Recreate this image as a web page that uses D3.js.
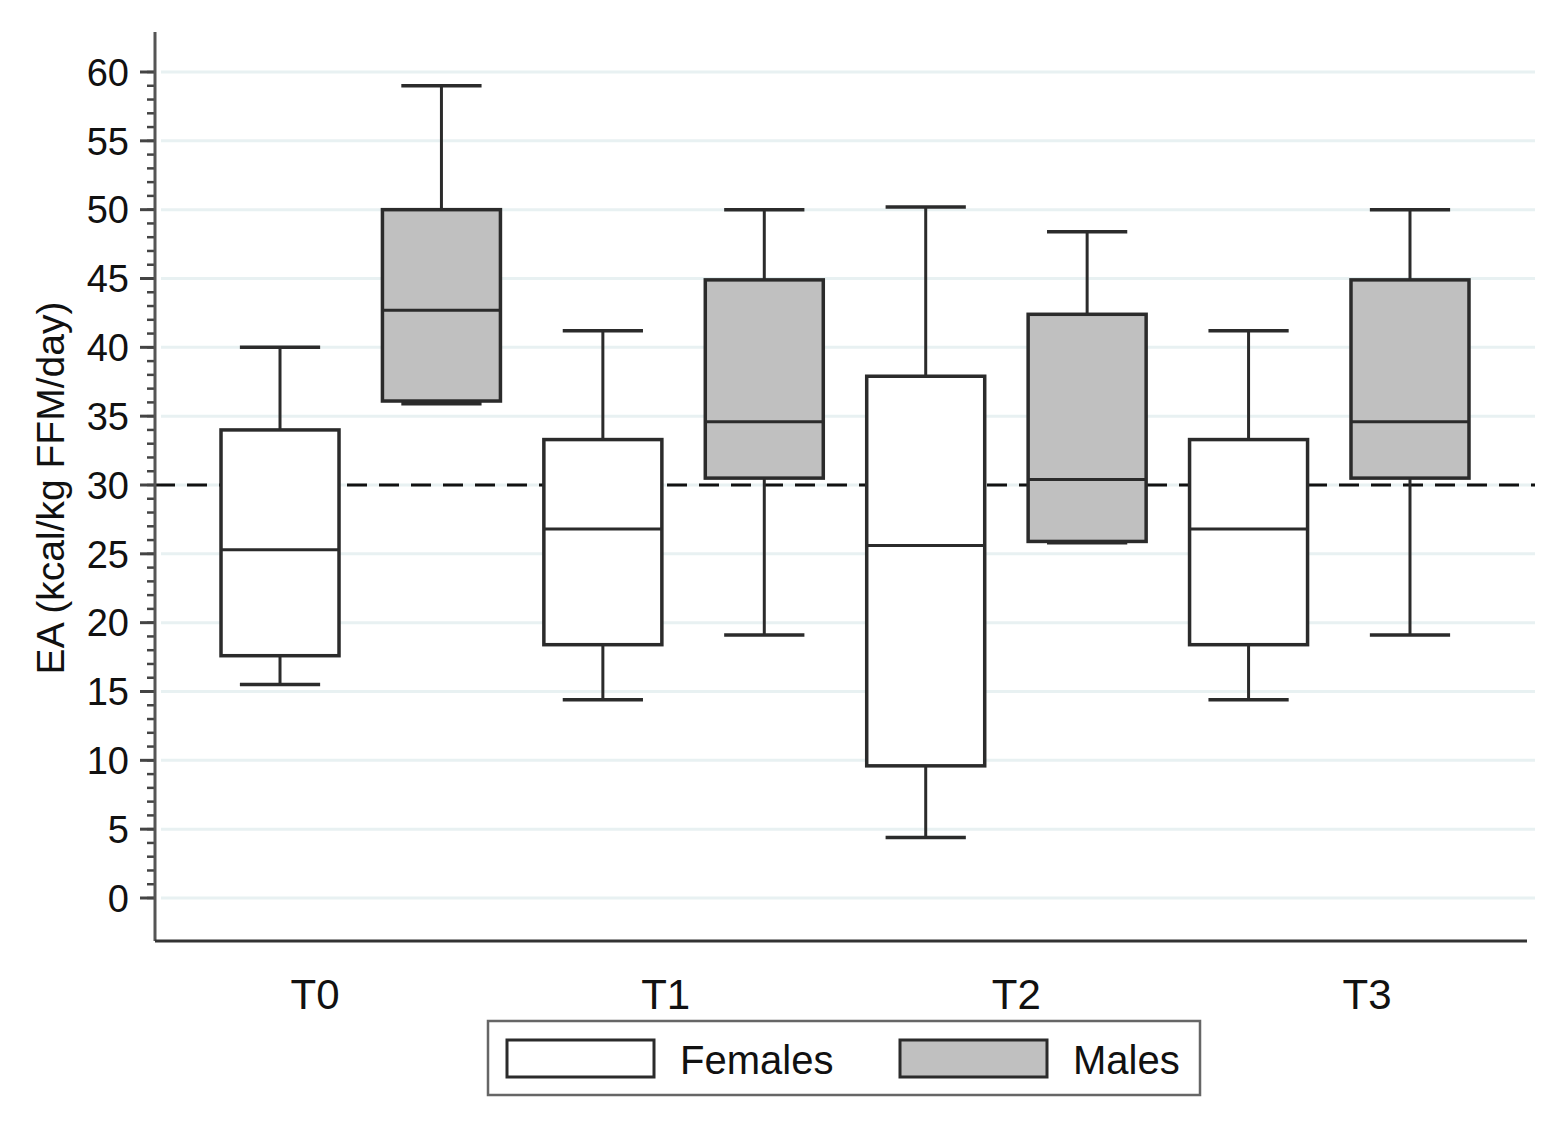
<!DOCTYPE html>
<html>
<head>
<meta charset="utf-8">
<script src="https://cdn.jsdelivr.net/npm/d3@7"></script>
<style>
  body { margin: 0; background: #fff; }
  text { font-family: "Liberation Sans", Arial, sans-serif; fill: #111; }
</style>
</head>
<body>
<div class="container"></div>
<script>
// data
const times = ['T0', 'T1', 'T2', 'T3'];
const groups = ['Females', 'Males'];
// [lower whisker, Q1, median, Q3, upper whisker]
const females = [
  [15.5, 17.6, 25.3, 34.0, 40.0],
  [14.4, 18.4, 26.8, 33.3, 41.2],
  [4.4, 9.6, 25.6, 37.9, 50.2],
  [14.4, 18.4, 26.8, 33.3, 41.2]
];
const males = [
  [35.9, 36.1, 42.7, 50.0, 59.0],
  [19.1, 30.5, 34.6, 44.9, 50.0],
  [25.8, 25.9, 30.4, 42.4, 48.4],
  [19.1, 30.5, 34.6, 44.9, 50.0]
];
const yTicks = [0, 5, 10, 15, 20, 25, 30, 35, 40, 45, 50, 55, 60];
const refLine = 30;

const W = 1559, H = 1124;
const fills = { Females: '#ffffff', Males: '#c0c0c0' };
const ink = '#2b2b2b';

var display = function () {
  var svg = d3.select('.container').append('svg')
    .attr('width', W)
    .attr('height', H);

  var y = d3.scaleLinear().domain([0, 60]).range([898, 72]);

  // one band per box, 8 boxes evenly spaced
  var keys = [];
  times.forEach(function (t) { groups.forEach(function (g) { keys.push(t + g); }); });
  var x = d3.scaleBand().domain(keys)
    .range([199.3, 1490.7])
    .paddingInner(0.269)
    .paddingOuter(0.1345);
  var xLab = d3.scalePoint().domain(times).range([315, 1367]);

  var plotLeft = 155, plotRight = 1535;

  // gridlines
  svg.append('g').selectAll('line').data(yTicks).join('line')
    .attr('x1', plotLeft + 6).attr('x2', plotRight)
    .attr('y1', function (d) { return y(d); })
    .attr('y2', function (d) { return y(d); })
    .attr('stroke', '#e8f1f2')
    .attr('stroke-width', 3);

  // reference line
  svg.append('line')
    .attr('x1', plotLeft).attr('x2', plotRight)
    .attr('y1', y(refLine)).attr('y2', y(refLine))
    .attr('stroke', '#111')
    .attr('stroke-width', 3)
    .attr('stroke-dasharray', '20,12');

  // boxes
  var rows = [];
  times.forEach(function (t, i) {
    rows.push({ key: t + 'Females', g: 'Females', v: females[i] });
    rows.push({ key: t + 'Males', g: 'Males', v: males[i] });
  });
  var bw = x.bandwidth();
  var capW = bw * 0.68;
  var box = svg.append('g').selectAll('g').data(rows).join('g')
    .attr('transform', function (d) { return 'translate(' + x(d.key) + ',0)'; });

  // whiskers
  box.append('line')
    .attr('x1', bw / 2).attr('x2', bw / 2)
    .attr('y1', function (d) { return y(d.v[4]); })
    .attr('y2', function (d) { return y(d.v[3]); })
    .attr('stroke', ink).attr('stroke-width', 3);
  box.append('line')
    .attr('x1', bw / 2).attr('x2', bw / 2)
    .attr('y1', function (d) { return y(d.v[1]); })
    .attr('y2', function (d) { return y(d.v[0]); })
    .attr('stroke', ink).attr('stroke-width', 3);
  // caps
  [0, 4].forEach(function (k) {
    box.append('line')
      .attr('x1', (bw - capW) / 2).attr('x2', (bw + capW) / 2)
      .attr('y1', function (d) { return y(d.v[k]); })
      .attr('y2', function (d) { return y(d.v[k]); })
      .attr('stroke', ink).attr('stroke-width', 3.5);
  });
  box.append('rect')
    .attr('x', 0).attr('width', bw)
    .attr('y', function (d) { return y(d.v[3]); })
    .attr('height', function (d) { return y(d.v[1]) - y(d.v[3]); })
    .attr('fill', function (d) { return fills[d.g]; })
    .attr('stroke', ink).attr('stroke-width', 3.5);
  box.append('line')
    .attr('x1', 0).attr('x2', bw)
    .attr('y1', function (d) { return y(d.v[2]); })
    .attr('y2', function (d) { return y(d.v[2]); })
    .attr('stroke', ink).attr('stroke-width', 3);

  // y axis
  var minor = d3.range(0, 61, 1);
  svg.append('g').selectAll('line').data(minor).join('line')
    .attr('x1', plotLeft - 8).attr('x2', plotLeft)
    .attr('y1', function (d) { return y(d); })
    .attr('y2', function (d) { return y(d); })
    .attr('stroke', '#444').attr('stroke-width', 2.5);
  svg.append('g').selectAll('line').data(yTicks).join('line')
    .attr('x1', plotLeft - 15).attr('x2', plotLeft)
    .attr('y1', function (d) { return y(d); })
    .attr('y2', function (d) { return y(d); })
    .attr('stroke', '#444').attr('stroke-width', 3);
  svg.append('g').selectAll('text').data(yTicks).join('text')
    .attr('x', plotLeft - 26)
    .attr('y', function (d) { return y(d); })
    .attr('dy', '0.36em')
    .attr('text-anchor', 'end')
    .style('font-size', '38px')
    .text(function (d) { return d; });
  svg.append('line')
    .attr('x1', plotLeft).attr('x2', plotLeft)
    .attr('y1', 32).attr('y2', 941)
    .attr('stroke', '#555').attr('stroke-width', 3);

  // x axis
  svg.append('line')
    .attr('x1', plotLeft).attr('x2', 1527)
    .attr('y1', 941).attr('y2', 941)
    .attr('stroke', '#333').attr('stroke-width', 3);
  svg.append('g').selectAll('text').data(times).join('text')
    .attr('x', function (d) { return xLab(d); })
    .attr('y', 1009)
    .attr('text-anchor', 'middle')
    .style('font-size', '42px')
    .text(function (d) { return d; });

  svg.append('text')
    .attr('transform', 'translate(64,' + 488 + ') rotate(-90)')
    .attr('text-anchor', 'middle')
    .style('font-size', '39px')
    .text('EA (kcal/kg FFM/day)');

  // legend
  var lg = svg.append('g');
  lg.append('rect')
    .attr('x', 488).attr('y', 1021).attr('width', 712).attr('height', 74)
    .attr('fill', '#fff').attr('stroke', '#666').attr('stroke-width', 2.5);
  var lx = [507, 900];
  groups.forEach(function (g, i) {
    lg.append('rect')
      .attr('x', lx[i]).attr('y', 1040).attr('width', 147).attr('height', 37)
      .attr('fill', fills[g]).attr('stroke', ink).attr('stroke-width', 3);
    lg.append('text')
      .attr('x', lx[i] + 173).attr('y', 1074)
      .style('font-size', '40px')
      .text(g);
  });
}

window.onload = display;
</script>
</body>
</html>
